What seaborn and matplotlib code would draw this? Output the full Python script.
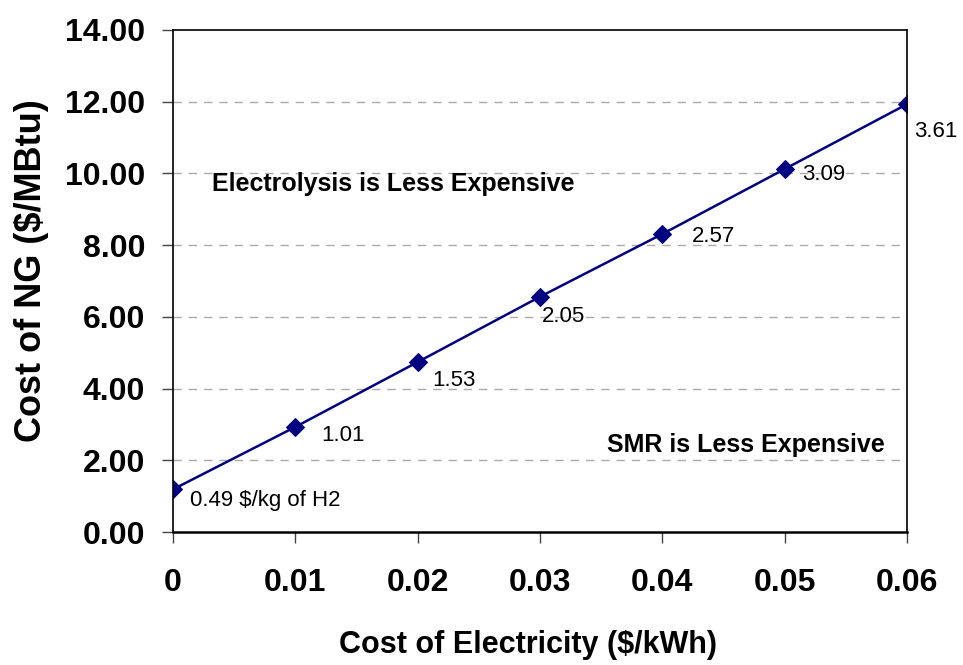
import numpy as np
import pandas as pd
import matplotlib
matplotlib.use("Agg")
import matplotlib.pyplot as plt
import seaborn as sns

# data
elec_cost = [0, 0.01, 0.02, 0.03, 0.04, 0.05, 0.06]
ng_cost = [1.19, 2.93, 4.74, 6.56, 8.31, 10.12, 11.93]
h2_labels = ["0.49 $/kg of H2", "1.01", "1.53", "2.05", "2.57", "3.09", "3.61"]
x_ticks = [0, 0.01, 0.02, 0.03, 0.04, 0.05, 0.06]
x_ticklabels = ["0", "0.01", "0.02", "0.03", "0.04", "0.05", "0.06"]
y_ticks = [0, 2, 4, 6, 8, 10, 12, 14]

# label offsets in pixels (Excel put them a bit irregularly)
label_offsets = [(17, -11), (26, -9), (15, -18), (2, -20), (30, -2), (18, -5), (7, -27)]

df = pd.DataFrame({"elec": elec_cost, "ng": ng_cost})

sns.set_theme(style="white", rc={"text.color": "black", "axes.labelcolor": "black",
                                 "xtick.color": "black", "ytick.color": "black"})
plt.rcParams["font.family"] = ["Liberation Sans", "DejaVu Sans"]

fig = plt.figure(figsize=(9.63, 6.65), dpi=100)
ax = fig.add_axes([0.1797, 0.2, 0.762, 0.7549])

sns.lineplot(data=df, x="elec", y="ng", ax=ax, color="#000080", linewidth=1.8,
             marker="D", markersize=9, markeredgecolor="#000080")

ax.set_xlim(0, 0.06)
ax.set_ylim(0, 14)
ax.set_xticks(x_ticks)
ax.set_xticklabels(x_ticklabels)
ax.set_yticks(y_ticks)
ax.set_yticklabels(["%.2f" % v for v in y_ticks])

for lab in ax.get_xticklabels() + ax.get_yticklabels():
    lab.set_fontweight("bold")
    lab.set_fontsize(23)
ax.tick_params(axis="x", direction="out", length=8, width=1, color="#444444", pad=18, bottom=True)
ax.tick_params(axis="y", direction="out", length=8, width=1, color="#444444", pad=12, left=True)

for v in y_ticks[1:-1]:
    ax.axhline(v, color="#aaaaaa", linestyle=(0, (6, 5)), linewidth=1, zorder=0)

for s in ax.spines.values():
    s.set_visible(True)
    s.set_color("black")
    s.set_linewidth(1.2)
ax.spines["bottom"].set_linewidth(1.8)

for x, y, t, (dx, dy) in zip(elec_cost, ng_cost, h2_labels, label_offsets):
    ax.annotate(t, (x, y), xytext=(dx, dy), textcoords="offset pixels",
                ha="left", va="center", fontsize=16, color="black", annotation_clip=False)

ax.text(0.0032, 9.7, "Electrolysis is Less Expensive", fontsize=18, fontweight="bold", va="center")
ax.text(0.0582, 2.43, "SMR is Less Expensive", fontsize=18, fontweight="bold", va="center", ha="right")

ax.set_xlabel("Cost of Electricity ($/kWh)", fontsize=22, fontweight="bold")
ax.set_ylabel("Cost of NG ($/MBtu)", fontsize=26, fontweight="bold")
ax.xaxis.set_label_coords(0.4837, -0.195)
ax.yaxis.set_label_coords(-0.169, 0.52)

fig.savefig("out.png", dpi=100)
